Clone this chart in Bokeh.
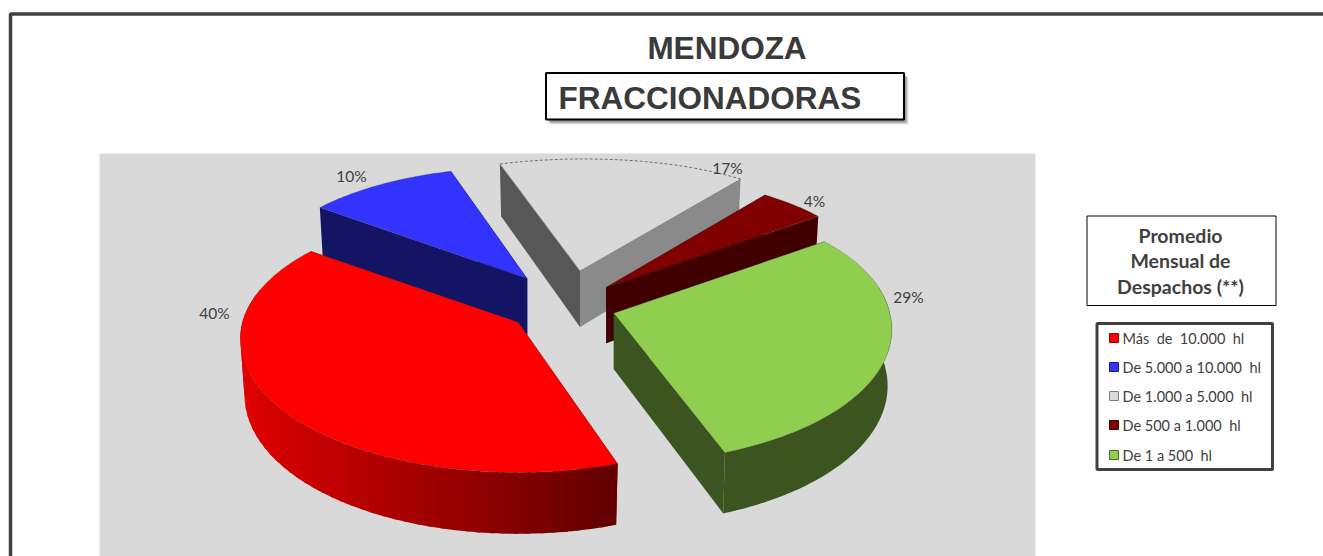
import math
from bokeh.plotting import figure
from bokeh.embed import file_html
from bokeh.resources import INLINE
from bokeh.core.properties import value

# ---- data ----
categories = ["Más \u00a0de \u00a010.000 \u00a0hl", "De 5.000 a 10.000 \u00a0hl", "De 1.000 a 5.000 \u00a0hl", "De 500 a 1.000 \u00a0hl", "De 1 a 500 \u00a0hl"]
percents = [40, 10, 17, 4, 29]
percent_labels = ["40%", "10%", "17%", "4%", "29%"]
top_colors = ["#FF0000", "#3333FF", "#D9D9D9", "#800000", "#8FCE4F"]
legend_colors = ["#FF0000", "#3333FF", "#D9D9D9", "#800000", "#92D050"]
legend_edges = ["#A00000", "#1A1A80", "#7F7F7F", "#400000", "#4A6B28"]
title = "MENDOZA"
subtitle = "FRACCIONADORAS"
legend_title = ["Promedio", "Mensual de", "Despachos (**)"]

# ---- layout of the pie ----
W, H = 1323, 556
CX, CY = 565.5, 303.0
RX = 276.0
START = 69.0
DEPTH = 56.0
explode_x = [60, 60, 90, 56, 51]
explode_y = [30, 32, 33, 24, 34]
# small view corrections (degrees) to the slice edges, from the 3D rotation of the original
view_start = [1, 0, -1, 1, 2]
view_end = [0, 0, 1.5, 2.5, -1.5]
cut_a = ["#800000", "#141464", "#575757", "#400000", "#3C5520"]   # wall of the slice's first radius
cut_b = ["#800000", "#141464", "#8A8A8A", "#400000", "#3C5520"]   # wall of its last radius
label_x = [215, 352, 728, 815, 909]
label_y = [312, 175, 167, 200, 296]
TEXT = "#404040"
LABEL_FONT = value("Lato")
TITLE_FONT = value("Liberation Sans")

p = figure(width=W, height=H, x_range=(1, W + 1), y_range=(H, 0),
           output_backend="svg", toolbar_location=None, min_border=0,
           outline_line_color=None, background_fill_color="white", border_fill_color="white")
p.axis.visible = False
p.grid.visible = False

# frame and chart area
p.quad(left=[100], right=[1036], top=[153], bottom=[556], fill_color="#D9D9D9", line_color=None)
p.line([11, 11, W + 1], [H, 13.5, 13.5], line_color="#404040", line_width=3.5)


def rim(apex, t):
    u, v = math.cos(math.radians(t)), math.sin(math.radians(t))
    sx = 1 + 0.13 * v - 0.08 * v * v
    ry = 145 + 19 * v - 14 * v * v
    skew = -4 * v if v < 0 else 0
    return apex[0] + RX * u * sx + skew, apex[1] + ry * v


def down(apex, pt):
    depth = DEPTH + 5 * (pt[1] - apex[1]) / 140.0
    return apex[0] + 0.985 * (pt[0] - apex[0]), pt[1] + depth


# angles computed from the values
spans = []
t = START
for pct in percents:
    spans.append((t, t + pct * 3.6))
    t += pct * 3.6

apexes = []
for (a, b), ex, ey in zip(spans, explode_x, explode_y):
    m = math.radians((a + b) / 2)
    apexes.append((CX + ex * math.cos(m), CY + ey * math.sin(m)))

order = [2, 3, 1, 0, 4]  # back to front
for i in order:
    a, b = spans[i]
    a += view_start[i]
    b += view_end[i]
    ap = apexes[i]
    n = max(12, int((b - a) * 1.2))
    ts = [a + (b - a) * k / n for k in range(n + 1)]
    arc = [rim(ap, x) for x in ts]
    ap_low = (ap[0], ap[1] + DEPTH)

    # cut walls
    for end, col in ((arc[0], cut_a[i]), (arc[-1], cut_b[i])):
        low = down(ap, end)
        p.patch([ap[0], end[0], low[0], ap_low[0]], [ap[1], end[1], low[1], ap_low[1]],
                fill_color=col, line_color=None)
    # outer wall
    if i == 0:
        # shaded strips, each one running under the next so that no seam shows
        xs, ys, cols = [], [], []
        step = 3
        keep = [k for k in range(0, n, step) if math.sin(math.radians(ts[k])) > -0.2]
        for k in reversed(keep):
            e = min(n, k + step + 1)
            top_part = arc[k:e + 1]
            low_part = [down(ap, q) for q in top_part]
            xs.append([q[0] for q in top_part] + [q[0] for q in reversed(low_part)])
            ys.append([q[1] for q in top_part] + [q[1] for q in reversed(low_part)])
            mx = arc[k][0]
            r = int(max(100, min(226, 226 - (mx - 240) / 380 * 126)))
            cols.append("#%02X0000" % r)
        p.patches(xs, ys, fill_color=cols, line_color=None)
    else:
        keep = [q for q, x in zip(arc, ts) if math.sin(math.radians(x)) > -0.2]
        if len(keep) > 1:
            low_part = [down(ap, q) for q in keep]
            p.patch([q[0] for q in keep] + [q[0] for q in reversed(low_part)],
                    [q[1] for q in keep] + [q[1] for q in reversed(low_part)],
                    fill_color=cut_a[i], line_color=None)
    # top face
    tx = [ap[0]] + [q[0] for q in arc]
    ty = [ap[1]] + [q[1] for q in arc]
    p.patch(tx, ty, fill_color=top_colors[i], line_color=None)
    if i == 2:
        p.line([q[0] for q in arc], [q[1] for q in arc], line_color="#6E6E6E", line_width=1, line_dash="3 2")
        p.line([ap[0], arc[0][0]], [ap[1], arc[0][1]], line_color="#6E6E6E", line_width=0.6)
        p.line([ap[0], arc[-1][0]], [ap[1], arc[-1][1]], line_color="#6E6E6E", line_width=0.6)
    else:
        p.line(tx + [ap[0]], ty + [ap[1]], line_color="#404040", line_alpha=0.35, line_width=0.7)

# data labels
p.text(x=label_x, y=label_y, text=percent_labels, text_font=LABEL_FONT, text_font_size="15.5px",
       text_color=TEXT, text_align="center", text_baseline="middle")

# titles
p.text(x=[727.5], y=[47.5], text=[title], text_font=TITLE_FONT, text_font_style="bold", text_font_size="31.5px",
       text_color="#3A3A3A", text_align="center", text_baseline="middle")
for off, alpha in ((5, 0.12), (4, 0.2), (3, 0.3)):
    p.quad(left=[546 + off], right=[904 + off], top=[72 + off], bottom=[119 + off],
           fill_color="#404040", fill_alpha=alpha, line_color=None)
p.quad(left=[546.5], right=[904.5], top=[72.5], bottom=[119], fill_color="white", line_color="#000000", line_width=2)
p.text(x=[559], y=[97], text=[subtitle], text_font=TITLE_FONT, text_font_style="bold", text_font_size="31.5px",
       text_color="#3A3A3A", text_align="left", text_baseline="middle")

# legend title box
p.quad(left=[1087.5], right=[1276.5], top=[215.5], bottom=[305], fill_color="white", line_color="#000000", line_width=1)
p.text(x=[1181, 1181, 1181], y=[235, 260, 286], text=legend_title, text_font=LABEL_FONT, text_font_style="bold",
       text_font_size="19.5px", text_color=TEXT, text_align="center", text_baseline="middle")

# legend box
p.quad(left=[1097.5], right=[1273], top=[323], bottom=[469], fill_color="white", line_color="#404040", line_width=3)
leg_y = [338, 367, 396, 425, 455]
p.quad(left=[1110] * 5, right=[1119] * 5, top=[y - 5 for y in leg_y], bottom=[y + 4 for y in leg_y],
       fill_color=legend_colors, line_color=legend_edges, line_width=1)
p.text(x=[1123] * 5, y=leg_y, text=categories, text_font=LABEL_FONT, text_font_size="14.5px",
       text_color=TEXT, text_align="left", text_baseline="middle")

open("out.html", "w").write(file_html(p, INLINE))
